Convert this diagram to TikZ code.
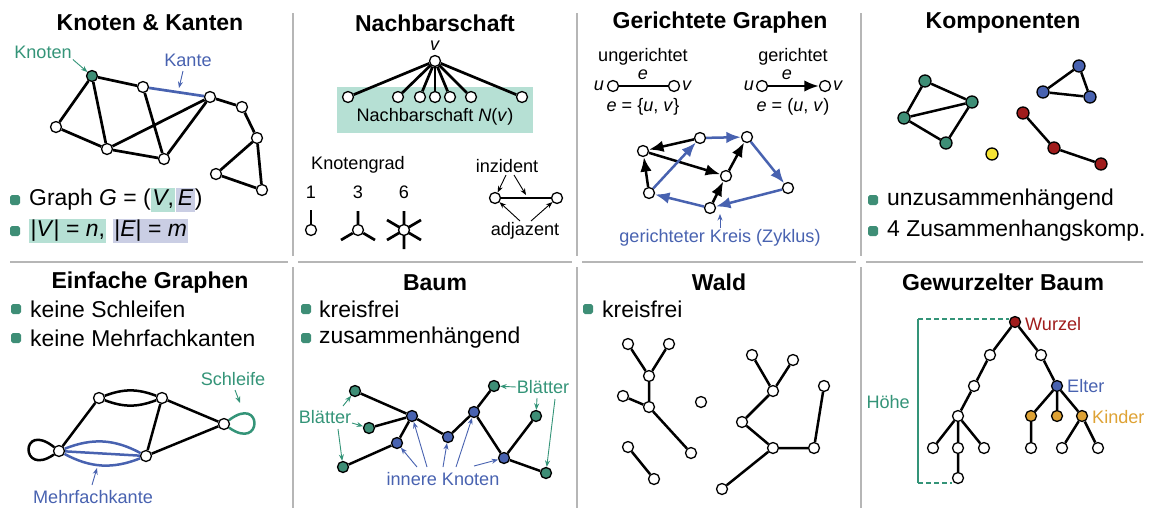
\documentclass[tikz,border=0pt]{standalone}
\usepackage{fontspec}
\setmainfont{Liberation Sans}
\usetikzlibrary{arrows.meta}
\definecolor{tg}{RGB}{52,148,120}
\definecolor{tgfill}{RGB}{62,142,118}
\definecolor{lg}{RGB}{182,224,212}
\definecolor{bl}{RGB}{72,98,176}
\definecolor{lb}{RGB}{202,206,228}
\definecolor{rd}{RGB}{160,28,28}
\definecolor{yl}{RGB}{246,228,52}
\definecolor{og}{RGB}{222,162,52}
\definecolor{sepc}{RGB}{182,182,182}
\newcommand{\hlbox}[2]{{\setlength{\fboxsep}{1.5pt}\colorbox{#1}{\rule[-4.5pt]{0pt}{20.5pt}#2}}}
\newcommand{\eqs}{\hspace{0.28em}=\hspace{0.28em}}
\tikzset{
 vtx/.style={circle,draw=black,fill=white,line width=1.3pt,inner sep=0pt,minimum size=11pt},
 cvtx/.style={vtx,fill=#1},
 kvtx/.style={vtx,fill=#1,minimum size=12pt},
 edg/.style={line width=2.7pt,black},
 ann/.style={line width=0.9pt,-{Stealth[length=6.5pt,width=5pt]}},
 ttl/.style={font=\fontsize{23}{27}\selectfont\bfseries},
 bul/.style={font=\fontsize{22.9}{27}\selectfont,anchor=west,inner sep=0pt},
 lbl/.style={font=\fontsize{18.1}{21}\selectfont,inner sep=1pt},
 sq/.style={fill=tgfill,rounded corners=1.8pt,minimum size=10pt,inner sep=0pt},
 sepl/.style={sepc,line width=1.6pt},
 darr/.style={edg,line width=2.5pt,-{Latex[length=14.5pt,width=11.5pt]}},
 hdash/.style={tg,line width=1.2pt,dash pattern=on 5pt off 3pt},
}
\begin{document}
\begin{tikzpicture}[x=1pt,y=-1pt]
\useasboundingbox (0,0) rectangle (1162,520);
% separators
\draw[sepl] (10,262) -- (288,262) (298,262) -- (572,262) (582,262) -- (856,262) (866,262) -- (1143,262);
\foreach \xx in {293,577,861}{\draw[sepl] (\xx,13) -- (\xx,256) (\xx,267) -- (\xx,508);}

% ---------- Panel 1: Knoten & Kanten
\node[ttl] (t1) at (150,23) {Knoten \& Kanten};
\node[cvtx=tgfill] (A) at (92,76) {};
\node[vtx] (B) at (143,87) {};
\node[vtx] (C) at (210,97) {};
\node[vtx] (D) at (242,107) {};
\node[vtx] (E) at (257,138) {};
\node[vtx] (F) at (216,174) {};
\node[vtx] (G) at (262,190) {};
\node[vtx] (H) at (56,127) {};
\node[vtx] (I) at (107,149) {};
\node[vtx] (J) at (164,159) {};
\draw[edg] (A)--(B) (C)--(D) (D)--(E) (E)--(F) (F)--(G) (E)--(G) (A)--(H) (A)--(I) (H)--(I) (I)--(J) (I)--(C) (B)--(J) (J)--(C);
\draw[edg,bl] (B)--(C);
\node[lbl,tg] (kn) at (43,52) {Knoten};
\draw[ann,tg] (kn.south east) -- (A);
\node[lbl,bl] (ka) at (188,60) {Kante};
\coordinate (kat) at (183,71);
\coordinate (kc) at (179,88);
\draw[ann,bl] (kat) -- (kc);
\node[sq] (s11) at (15,200) {};
\node[bul] (b11) at (29,200) {Graph \textit{G}\eqs(\hlbox{lg}{\textit{V},}\hspace{1pt}\hlbox{lb}{\textit{E}})};
\node[sq] (s12) at (15,231) {};
\node[bul] (b12) at (29,231) {\hlbox{lg}{|\textit{V}|\eqs\textit{n},} \hlbox{lb}{|\textit{E}|\eqs\textit{m}}};

% ---------- Panel 2: Nachbarschaft
\node[ttl] (t2) at (435,23) {Nachbarschaft};
\fill[lg] (337,87) rectangle (533,133);
\node[vtx] (v) at (435,61) {};
\node[lbl] (vl) at (435,46) {\textit{v}};
\foreach \nx [count=\i] in {348,398,420,435,450,471,522}{
  \node[vtx] (nb\i) at (\nx,97) {};
  \draw[edg] (v) -- (nb\i);
}
\node[lbl] (nbl) at (435,117) {Nachbarschaft \textit{N}(\textit{v})};
\node[lbl] (kg) at (358,165) {Knotengrad};
\node[lbl] (g1) at (311,192) {1};
\node[lbl] (g3) at (358,192) {3};
\node[lbl] (g6) at (404,192) {6};
\node[vtx] (d1) at (311,230) {};
\coordinate (d1a) at (311,210);
\draw[edg] (d1) -- (d1a);
\node[vtx] (d3) at (358,230) {};
\coordinate (d3a) at (358,211);
\coordinate (d3b) at (341,240);
\coordinate (d3c) at (375,240);
\draw[edg] (d3) -- (d3a) (d3) -- (d3b) (d3) -- (d3c);
\coordinate (d6a) at (404,211);
\coordinate (d6b) at (404,249);
\coordinate (d6c) at (387,220);
\coordinate (d6d) at (421,220);
\coordinate (d6e) at (387,240);
\coordinate (d6f) at (421,240);
\draw[edg] (d6a) -- (d6b) (d6c) -- (d6f) (d6d) -- (d6e);
\node[vtx] (d6) at (404,230) {};
\node[lbl] (iz) at (507,166) {inzident};
\node[vtx] (x1) at (495,198) {};
\node[vtx] (x2) at (557,198) {};
\draw[edg] (x1) -- (x2);
\coordinate (xm) at (526,195);
\coordinate (izt1) at (506,175);
\coordinate (izt2) at (514,175);
\draw[ann] (izt1) -- (x1);
\draw[ann] (izt2) -- (xm);
\node[lbl] (ad) at (525,231) {adjazent};
\coordinate (adt1) at (520,221);
\coordinate (adt2) at (531,221);
\draw[ann] (adt1) -- (x1);
\draw[ann] (adt2) -- (x2);

% ---------- Panel 3: Gerichtete Graphen
\node[ttl] (t3) at (720,23) {Gerichtete Graphen};
\node[lbl] (ug) at (643,57) {ungerichtet};
\node[lbl] (gg) at (793,57) {gerichtet};
\node[vtx] (u1) at (613,86) {};
\node[vtx] (v1) at (674,86) {};
\draw[edg,line width=2.5pt] (u1) -- (v1);
\node[lbl] (u1l) at (599,86) {\textit{u}};
\node[lbl] (v1l) at (687,86) {\textit{v}};
\node[lbl] (e1l) at (643,75) {\textit{e}};
\node[lbl] (e1d) at (643,107) {\textit{e}\eqs\{\textit{u}, \textit{v}\}};
\node[vtx] (u2) at (762,86) {};
\node[vtx] (v2) at (825,86) {};
\draw[darr] (u2) -- (v2);
\node[lbl] (u2l) at (749,86) {\textit{u}};
\node[lbl] (v2l) at (838,86) {\textit{v}};
\node[lbl] (e2l) at (787,75) {\textit{e}};
\node[lbl] (e2d) at (793,107) {\textit{e}\eqs(\textit{u}, \textit{v})};
\node[vtx] (ga) at (643,151) {};
\node[vtx] (gb) at (700,138) {};
\node[vtx] (gc) at (747,137) {};
\node[vtx] (gd) at (726,176) {};
\node[vtx] (ge) at (788,188) {};
\node[vtx] (gf) at (649,193) {};
\node[vtx] (gg2) at (710,208) {};
\draw[darr] (gb) -- (ga);
\draw[darr] (gf) -- (ga);
\draw[darr] (ga) -- (gd);
\draw[darr] (gd) -- (gc);
\draw[darr] (gg2) -- (gd);
\draw[darr,bl] (gf) -- (gb);
\draw[darr,bl] (gb) -- (gc);
\draw[darr,bl] (gc) -- (ge);
\draw[darr,bl] (ge) -- (gg2);
\draw[darr,bl] (gg2) -- (gf);
\node[lbl,bl] (zy) at (720,238) {gerichteter Kreis (Zyklus)};
\coordinate (zyt) at (720,214);
\draw[ann,bl] (zy.north) -- (zyt);

% ---------- Panel 4: Komponenten
\node[ttl] (t4) at (1003,23) {Komponenten};
\node[kvtx=tgfill] (p1) at (925,81) {};
\node[kvtx=tgfill] (p2) at (972,102) {};
\node[kvtx=tgfill] (p3) at (904,118) {};
\node[kvtx=tgfill] (p4) at (946,143) {};
\draw[edg,line width=2.5pt] (p1)--(p2) (p1)--(p3) (p3)--(p2) (p3)--(p4) (p4)--(p2);
\node[kvtx=bl] (q1) at (1079,66) {};
\node[kvtx=bl] (q2) at (1043,92) {};
\node[kvtx=bl] (q3) at (1090,97) {};
\draw[edg,line width=2.5pt] (q1)--(q2) (q2)--(q3) (q3)--(q1);
\node[kvtx=rd] (r1) at (1023,113) {};
\node[kvtx=rd] (r2) at (1054,148) {};
\node[kvtx=rd] (r3) at (1101,164) {};
\draw[edg,line width=2.5pt] (r1)--(r2) (r2)--(r3);
\node[kvtx=yl] (y1) at (992,154) {};
\node[sq] (s41) at (873,200) {};
\node[bul] (b41) at (887,200) {unzusammenhängend};
\node[sq] (s42) at (873,231) {};
\node[bul] (b42) at (887,231) {4 Zusammenhangskomp.};

% ---------- Panel 5: Einfache Graphen
\node[ttl] (t5) at (150,283) {Einfache Graphen};
\node[sq] (s51) at (16,309) {};
\node[bul] (b51) at (30,309) {keine Schleifen};
\node[sq] (s52) at (16,338) {};
\node[bul] (b52) at (30,338) {keine Mehrfachkanten};
\node[vtx] (n1) at (99,398) {};
\node[vtx] (n2) at (162,398) {};
\node[vtx] (n3) at (224,424) {};
\node[vtx] (n4) at (59,451) {};
\node[vtx] (n5) at (146,456) {};
\draw[edg,line width=2.5pt] (n1) to[bend left=21] (n2);
\draw[edg,line width=2.5pt] (n1) to[bend right=21] (n2);
\draw[edg,line width=2.5pt] (n1)--(n4) (n2)--(n5) (n2)--(n3) (n5)--(n3);
\draw[edg,line width=2.5pt,bl] (n4)--(n5);
\draw[edg,line width=2.5pt,bl] (n4) to[bend left=25] (n5);
\draw[edg,line width=2.5pt,bl] (n4) to[bend right=25] (n5);
\draw[edg,line width=2.5pt] (n4) .. controls (20,420) and (20,478) .. (n4);
\draw[edg,line width=2.5pt,tg] (n3) .. controls (263,394) and (263,452) .. (n3);
\node[lbl,tg] (sch) at (233,379) {Schleife};
\coordinate (scht) at (235,390);
\coordinate (schh) at (240,403);
\draw[ann,tg] (scht) -- (schh);
\node[lbl,bl] (mf) at (93,497) {Mehrfachkante};
\coordinate (mft) at (92,485);
\coordinate (mfh) at (97,468);
\draw[ann,bl] (mft) -- (mfh);

% ---------- Panel 6: Baum
\node[ttl] (t6) at (435,283) {Baum};
\node[sq] (s61) at (306,309) {};
\node[bul] (b61) at (319,309) {kreisfrei};
\node[sq] (s62) at (306,338) {};
\node[bul] (b62) at (319,338) {zusammenhängend};
\node[cvtx=tgfill] (L1) at (355,391) {};
\node[cvtx=tgfill] (L2) at (369,428) {};
\node[cvtx=tgfill] (L3) at (343,467) {};
\node[cvtx=bl] (I1) at (412,416) {};
\node[cvtx=bl] (I2) at (397,443) {};
\node[cvtx=bl] (I3) at (448,437) {};
\node[cvtx=bl] (I4) at (474,412) {};
\node[cvtx=tgfill] (L4) at (494,386) {};
\node[cvtx=tgfill] (L5) at (536,416) {};
\node[cvtx=bl] (I5) at (504,458) {};
\node[cvtx=tgfill] (L6) at (546,473) {};
\draw[edg,line width=2.5pt] (L1)--(I1) (L2)--(I1) (I1)--(I2) (I2)--(L3) (I1)--(I3) (I3)--(I4) (I4)--(L4) (I4)--(I5) (I5)--(L5) (I5)--(L6);
\node[lbl,tg] (bl1) at (325,417) {Blätter};
\node[lbl,tg] (bl2) at (543,387) {Blätter};
\node[lbl,bl] (ik) at (443,479) {innere Knoten};
\coordinate (bt1) at (343,406);
\coordinate (bt2) at (352,423);
\coordinate (bt3) at (338,429);
\coordinate (bt4) at (516,387);
\coordinate (bt5) at (537,398);
\coordinate (bt6) at (555,399);
\draw[ann,tg] (bt1) -- (L1);
\draw[ann,tg] (bt2) -- (L2);
\draw[ann,tg] (bt3) -- (L3);
\draw[ann,tg] (bt4) -- (L4);
\draw[ann,tg] (bt5) -- (L5);
\draw[ann,tg] (bt6) -- (L6);
\coordinate (it1) at (417,467);
\coordinate (it2) at (427,467);
\coordinate (it3) at (443,467);
\coordinate (it4) at (456,467);
\coordinate (it5) at (474,466);
\draw[ann,bl] (it1) -- (I2);
\draw[ann,bl] (it2) -- (I1);
\draw[ann,bl] (it3) -- (I3);
\draw[ann,bl] (it4) -- (I4);
\draw[ann,bl] (it5) -- (I5);

% ---------- Panel 7: Wald
\node[ttl] (t7) at (719,282) {Wald};
\node[sq] (s71) at (588,309) {};
\node[bul] (b71) at (602,309) {kreisfrei};
\node[vtx] (a1) at (628,344) {};
\node[vtx] (a2) at (669,344) {};
\node[vtx] (a3) at (649,376) {};
\node[vtx] (a4) at (623,396) {};
\node[vtx] (a5) at (649,407) {};
\node[vtx] (a6) at (691,453) {};
\draw[edg,line width=2.5pt] (a1)--(a3) (a2)--(a3) (a3)--(a5) (a4)--(a5) (a5)--(a6);
\node[vtx] (c1) at (628,447) {};
\node[vtx] (c2) at (654,479) {};
\draw[edg,line width=2.5pt] (c1)--(c2);
\node[vtx] (iso) at (701,402) {};
\node[vtx] (w1) at (752,355) {};
\node[vtx] (w2) at (793,360) {};
\node[vtx] (w3) at (773,391) {};
\node[vtx] (w4) at (742,422) {};
\node[vtx] (w5) at (773,448) {};
\node[vtx] (w6) at (814,448) {};
\node[vtx] (w7) at (824,386) {};
\node[vtx] (w8) at (722,489) {};
\draw[edg,line width=2.5pt] (w1)--(w3) (w2)--(w3) (w3)--(w4) (w4)--(w5) (w5)--(w6) (w6)--(w7) (w5)--(w8);

% ---------- Panel 8: Gewurzelter Baum
\node[ttl] (t8) at (1003,282) {Gewurzelter Baum};
\node[cvtx=rd] (rt) at (1015,322) {};
\node[vtx] (h2a) at (990,355) {};
\node[vtx] (h2b) at (1041,355) {};
\node[vtx] (h3a) at (974,386) {};
\node[cvtx=bl] (el) at (1057,386) {};
\node[vtx] (h4a) at (958,416) {};
\node[cvtx=og] (k1) at (1031,416) {};
\node[cvtx=og] (k2) at (1057,416) {};
\node[cvtx=og] (k3) at (1082,416) {};
\node[vtx] (h5a) at (933,448) {};
\node[vtx] (h5b) at (958,448) {};
\node[vtx] (h5c) at (984,448) {};
\node[vtx] (h5d) at (1031,448) {};
\node[vtx] (h5e) at (1062,448) {};
\node[vtx] (h5f) at (1098,448) {};
\node[vtx] (h6) at (958,478) {};
\draw[edg,line width=2.5pt] (rt)--(h2a) (rt)--(h2b) (h2a)--(h3a) (h3a)--(h4a) (h4a)--(h5a) (h4a)--(h5b) (h4a)--(h5c) (h5b)--(h6) (h2b)--(el) (el)--(k1) (el)--(k2) (el)--(k3) (k1)--(h5d) (k3)--(h5e) (k3)--(h5f);
\node[lbl,rd,anchor=west] (wl) at (1024,324) {Wurzel};
\node[lbl,bl,anchor=west] (ell) at (1066,386) {Elter};
\node[lbl,og,anchor=west] (kl) at (1091,417) {Kinder};
\node[lbl,tg,anchor=east] (hl) at (911,402) {Höhe};
\coordinate (hT) at (918,319);
\coordinate (hR) at (1009,319);
\coordinate (hB) at (918,483);
\coordinate (hL) at (952,483);
\draw[hdash] (hT) -- (hR);
\draw[tg,line width=1.2pt] (hT) -- (hB);
\draw[hdash] (hB) -- (hL);
\end{tikzpicture}
\end{document}
